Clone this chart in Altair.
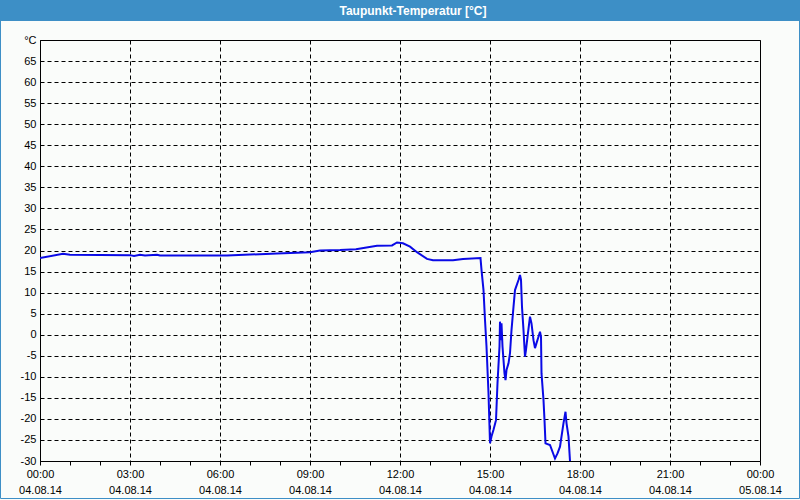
import altair as alt
import pandas as pd

title_text = "Taupunkt-Temperatur [°C]"

times = ["00:00", "00:46", "01:00", "03:00", "03:08", "03:20", "03:30", "03:54", "04:00",
         "06:14", "07:54", "09:00", "09:20", "10:00", "10:32", "11:14", "11:44", "11:54",
         "12:06", "12:20", "12:34", "12:54", "13:06", "13:46", "14:06", "14:41", "14:43",
         "14:47", "14:50", "14:53", "14:57", "15:00", "15:03", "15:07", "15:12", "15:15",
         "15:19", "15:20", "15:21", "15:23", "15:25", "15:29", "15:31", "15:33", "15:37",
         "15:40", "15:43", "15:47", "15:50", "15:57", "16:00", "16:02", "16:04", "16:07",
         "16:10", "16:12", "16:15", "16:20", "16:23", "16:27", "16:30", "16:33", "16:37",
         "16:40", "16:42", "16:43", "16:47", "16:49", "16:51", "17:00", "17:10", "17:15",
         "17:20", "17:27", "17:31", "17:33", "17:37", "17:40"]
values = [18.2, 19.2, 19.0, 18.9, 18.7, 19.0, 18.8, 19.0, 18.8,
          18.8, 19.3, 19.6, 20.0, 20.1, 20.3, 21.1, 21.2, 21.9,
          21.7, 20.9, 19.6, 18.0, 17.7, 17.7, 18.0, 18.2, 15.4,
          10.6, 3.5, -2.8, -13.9, -25.8, -24.2, -22.6, -20.3, -11.5,
          -2.8, 3.1, -1.3, 2.7, -2.8, -9.2, -10.8, -8.4, -6.8,
          -4.4, 1.1, 6.6, 10.6, 13.0, 14.2, 13.0, 6.6, 1.1,
          -5.2, -3.6, -0.5, 4.3, 2.7, -1.3, -3.2, -2.0, -0.5,
          0.7, -0.5, -9.2, -15.5, -20.3, -25.8, -26.2, -29.4, -28.2,
          -26.6, -21.0, -18.3, -21.0, -24.2, -30.0]

x_ticks = list(range(0, 25))
y_ticks = list(range(-30, 75, 5))

def to_hours(s):
    h, m = s.split(":")
    return int(h) + int(m) / 60.0

df = pd.DataFrame({"hour": [to_hours(t) for t in times], "value": values})

BG = "#FAFCFA"
BLUE = "#3D8FC6"
FONT = "Liberation Sans"

x_axis = alt.Axis(
    values=x_ticks,
    labelExpr="datum.value % 3 === 0 ? [(datum.value === 24 ? '00:00' : ((datum.value < 10 ? '0' : '') + datum.value + ':00')), (datum.value === 24 ? '05.08.14' : '04.08.14')] : ''",
    labelOverlap=False,
    labelFlush=False,
    labelFont=FONT,
    labelFontSize=11,
    labelColor="black",
    labelLineHeight=16,
    labelPadding=3,
    tickSize=4,
    tickColor="black",
    domain=False,
    grid=True,
    gridColor="black",
    gridDash=[4, 3],
    gridOpacity={"condition": {"test": "datum.value % 3 === 0", "value": 1}, "value": 0},
    title=None,
)

y_axis = alt.Axis(
    values=y_ticks,
    labelExpr="datum.value === 70 ? '°C' : datum.value",
    labelFont=FONT,
    labelFontSize=11,
    labelColor="black",
    labelPadding=4,
    ticks=False,
    domain=False,
    grid=True,
    gridColor="black",
    gridDash=[4, 3],
    title=None,
)

line = alt.Chart(df).mark_line(color="#0A0AE6", strokeWidth=2, clip=True).encode(
    x=alt.X("hour:Q", scale=alt.Scale(domain=[0, 24], nice=False, zero=False), axis=x_axis),
    y=alt.Y("value:Q", scale=alt.Scale(domain=[-30, 70], nice=False, zero=False), axis=y_axis),
)

tdf = pd.DataFrame({"t": [title_text]})

bar = alt.Chart(tdf).mark_rect(color=BLUE).encode(
    x=alt.value(-40), x2=alt.value(760), y=alt.value(-40), y2=alt.value(-19)
)
border = alt.Chart(tdf).mark_rect(fill=None, stroke=BLUE, strokeWidth=1).encode(
    x=alt.value(-39.5), x2=alt.value(759.5), y=alt.value(-39.5), y2=alt.value(458.5)
)
title = alt.Chart(tdf).mark_text(
    color="white", font=FONT, fontSize=12, fontWeight="bold", align="center", baseline="middle"
).encode(text="t:N", x=alt.value(373), y=alt.value(-29.5))

chart = alt.layer(line, border, bar, title).properties(
    width=720,
    height=421,
    autosize=alt.AutoSizeParams(type="none"),
    padding={"left": 40, "top": 40, "right": 40, "bottom": 39},
    background=BG,
).configure_view(
    stroke="black", strokeWidth=1, fill=BG
)

chart.save("out.html", embed_options={"renderer": "svg", "actions": False})
